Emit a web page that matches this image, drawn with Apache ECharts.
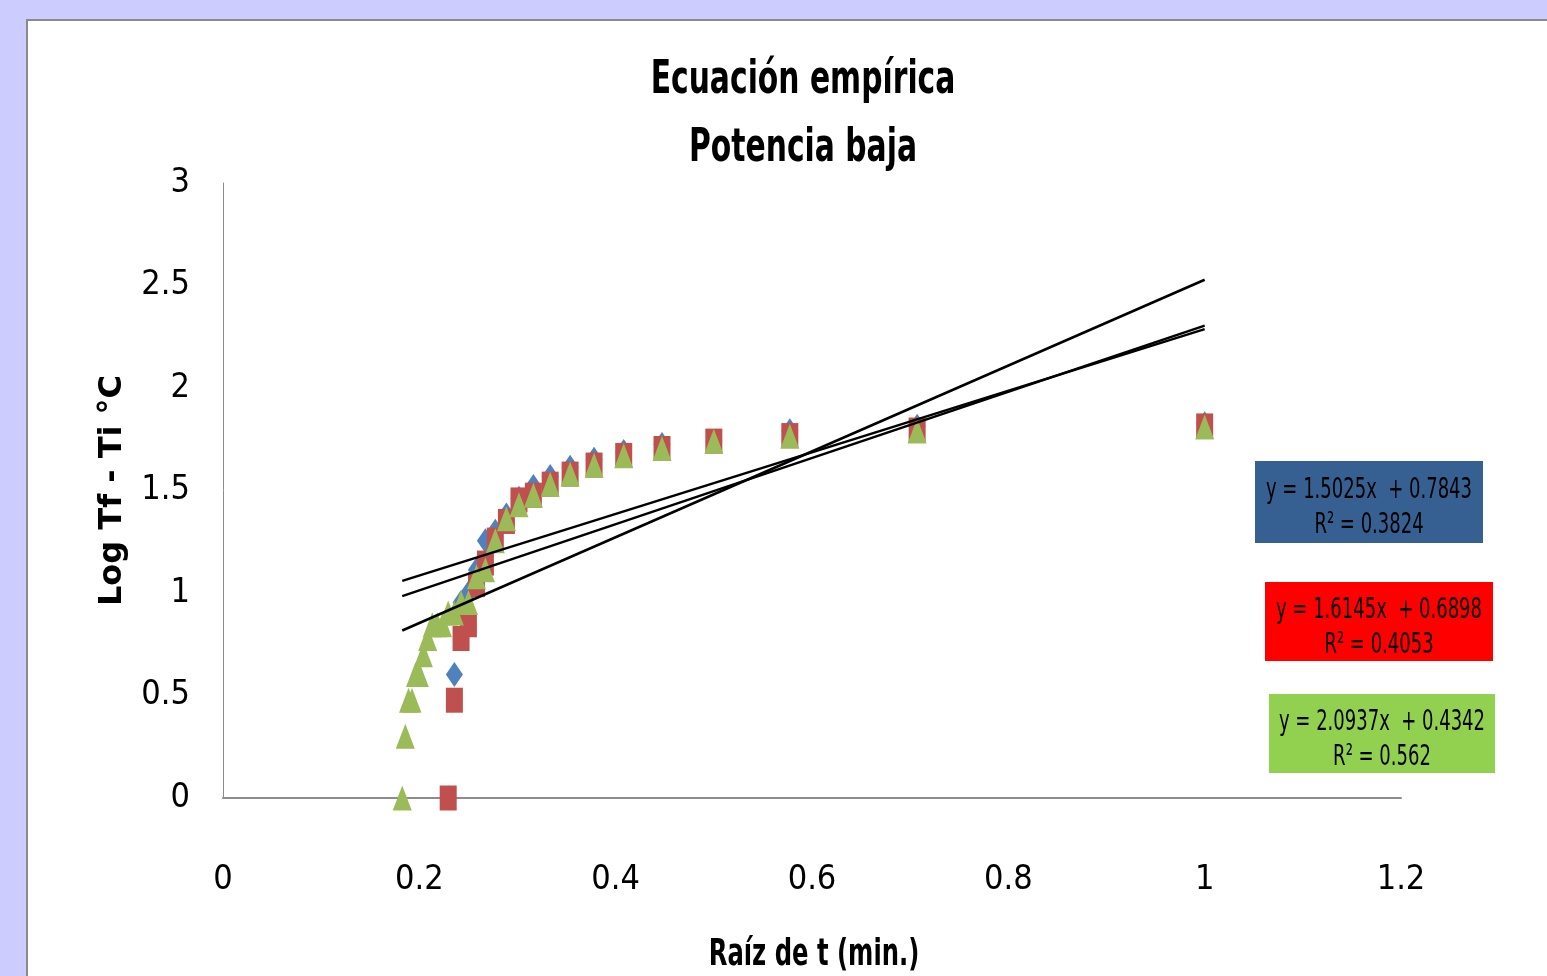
<!DOCTYPE html>
<html>
<head>
<meta charset="utf-8">
<script src="https://cdn.jsdelivr.net/npm/echarts@6/dist/echarts.min.js"></script>
<style>
html,body{margin:0;padding:0;background:#CCCCFF;overflow:hidden;}
#panel{position:absolute;left:26px;top:19px;width:1540px;height:980px;background:#fff;border:2px solid #8a8a8a;}
#chart{position:absolute;left:0;top:0;width:1547px;height:976px;}
</style>
</head>
<body>
<div id="panel"></div>
<div id="chart"></div>
<script>
// Raíz de t values (x) shared by all series
const xValues = [1, 0.7071, 0.5774, 0.5, 0.4472, 0.4082, 0.378, 0.3536, 0.3333, 0.3162,
  0.3015, 0.2887, 0.2774, 0.2673, 0.2582, 0.25, 0.2425, 0.2357, 0.2294, 0.2236,
  0.2182, 0.2132, 0.2085, 0.2041, 0.2, 0.1961, 0.1925, 0.189, 0.1857, 0.1826];
// Log Tf - Ti values
const blueY = [1.826, 1.813, 1.792, 1.740, 1.724, 1.690, 1.653, 1.613, 1.568, 1.519,
  1.462, 1.380, 1.301, 1.255, 1.114, 1.000, 0.954, 0.602, 0];
const redY = [1.815, 1.795, 1.768, 1.741, 1.705, 1.671, 1.624, 1.580, 1.531, 1.477,
  1.454, 1.349, 1.258, 1.146, 1.041, 0.845, 0.778, 0.477, 0];
const greenY = [1.810, 1.790, 1.765, 1.740, 1.705, 1.670, 1.623, 1.580, 1.530, 1.477,
  1.431, 1.362, 1.255, 1.114, 1.079, 0.954, 0.954, 0.903, 0.903, 0.845,
  0.845, 0.845, 0.778, 0.699, 0.602, 0.602, 0.477, 0.477, 0.301, 0];
// trendline end points [x, y]
const blueTrend = [[0.1826, 1.059], [1, 2.287]];
const redTrend = [[0.1826, 0.985], [1, 2.304]];
const greenTrend = [[0.1826, 0.817], [1, 2.528]];
const xTicks = [0, 0.2, 0.4, 0.6, 0.8, 1, 1.2];
const yTicks = [0, 0.5, 1, 1.5, 2, 2.5, 3];
const titleLines = ['Ecuación empírica', 'Potencia baja'];
const xName = 'Raíz de t (min.)';
const yName = 'Log Tf - Ti °C';
const eqBlue = ['y = 1.5025x  + 0.7843', 'R² = 0.3824'];
const eqRed = ['y = 1.6145x  + 0.6898', 'R² = 0.4053'];
const eqGreen = ['y = 2.0937x  + 0.4342', 'R² = 0.562'];

const NARROW = "'Liberation Sans Narrow', 'DejaVu Sans Condensed', 'Arial Narrow', sans-serif";
function pairs(ys) { return ys.map((y, i) => [xValues[i], y]); }

const chart = echarts.init(document.getElementById('chart'));
function eqBox(x, y, w, h, color, lines) {
  return {
    type: 'group', x: x, y: y,
    children: [
      {type: 'rect', shape: {x: 0, y: 0, width: w, height: h}, style: {fill: color}},
      {type: 'text', x: w / 2, y: h / 2 + 6, scaleX: 0.69, style: {text: lines.join('\n'), fill: '#000',
        font: '29px ' + NARROW, textAlign: 'center', textVerticalAlign: 'middle', lineHeight: 35}}
    ]
  };
}
chart.setOption({
  animation: false,
  grid: {left: 223, top: 183, right: 146, bottom: 178, containLabel: false, outerBoundsMode: 'none'},
  xAxis: {
    type: 'value', min: 0, max: 1.2, interval: 0.2,
    axisLine: {show: true, lineStyle: {color: '#8c8c8c', width: 2}},
    axisTick: {show: false}, splitLine: {show: false},
    axisLabel: {margin: 65, color: '#000', fontSize: 34, fontFamily: NARROW,
      formatter: v => xTicks.includes(+v.toFixed(1)) ? String(+v.toFixed(1)) : ''}
  },
  yAxis: {
    type: 'value', min: 0, max: 3, interval: 0.5,
    axisLine: {show: true, lineStyle: {color: '#8c8c8c', width: 1}},
    axisTick: {show: false}, splitLine: {show: false},
    axisLabel: {margin: 33, color: '#000', fontSize: 34, fontFamily: NARROW,
      formatter: v => yTicks.includes(+v.toFixed(1)) ? String(+v.toFixed(1)) : ''},
    name: yName, nameLocation: 'middle', nameGap: 94, nameRotate: 90,
    nameTextStyle: {color: '#000', fontSize: 32, fontWeight: 'bold', fontFamily: "'DejaVu Sans', sans-serif"}
  },
  graphic: [
    {type: 'text', x: 803, y: 81, scaleX: 0.72, style: {text: titleLines[0], fill: '#000',
      font: 'bold 46px ' + NARROW, textAlign: 'center', textVerticalAlign: 'middle'}},
    {type: 'text', x: 803, y: 149, scaleX: 0.72, style: {text: titleLines[1], fill: '#000',
      font: 'bold 46px ' + NARROW, textAlign: 'center', textVerticalAlign: 'middle'}},
    {type: 'text', x: 814, y: 955, scaleX: 0.71, style: {text: xName, fill: '#000',
      font: 'bold 38px ' + NARROW, textAlign: 'center', textVerticalAlign: 'middle'}},
    eqBox(1255, 461, 228, 82, '#376092', eqBlue),
    eqBox(1265, 582, 228, 79, '#FF0000', eqRed),
    eqBox(1269, 694, 226, 79, '#92D050', eqGreen)
  ],
  series: [
    {type: 'scatter', data: pairs(blueY), symbol: 'diamond', symbolSize: [17, 25],
      itemStyle: {color: '#4F81BD', opacity: 1}, z: 3},
    {type: 'scatter', data: pairs(redY), symbol: 'rect', symbolSize: [17, 25],
      itemStyle: {color: '#C0504D', opacity: 1}, z: 4},
    {type: 'scatter', data: pairs(greenY), symbol: 'triangle', symbolSize: [19, 25],
      itemStyle: {color: '#9BBB59', opacity: 1}, z: 5},
    {type: 'line', data: blueTrend, symbol: 'none', lineStyle: {color: '#000', width: 2.5}, z: 6},
    {type: 'line', data: redTrend, symbol: 'none', lineStyle: {color: '#000', width: 2.5}, z: 6},
    {type: 'line', data: greenTrend, symbol: 'none', lineStyle: {color: '#000', width: 2.5}, z: 6}
  ]
});
</script>
</body>
</html>
